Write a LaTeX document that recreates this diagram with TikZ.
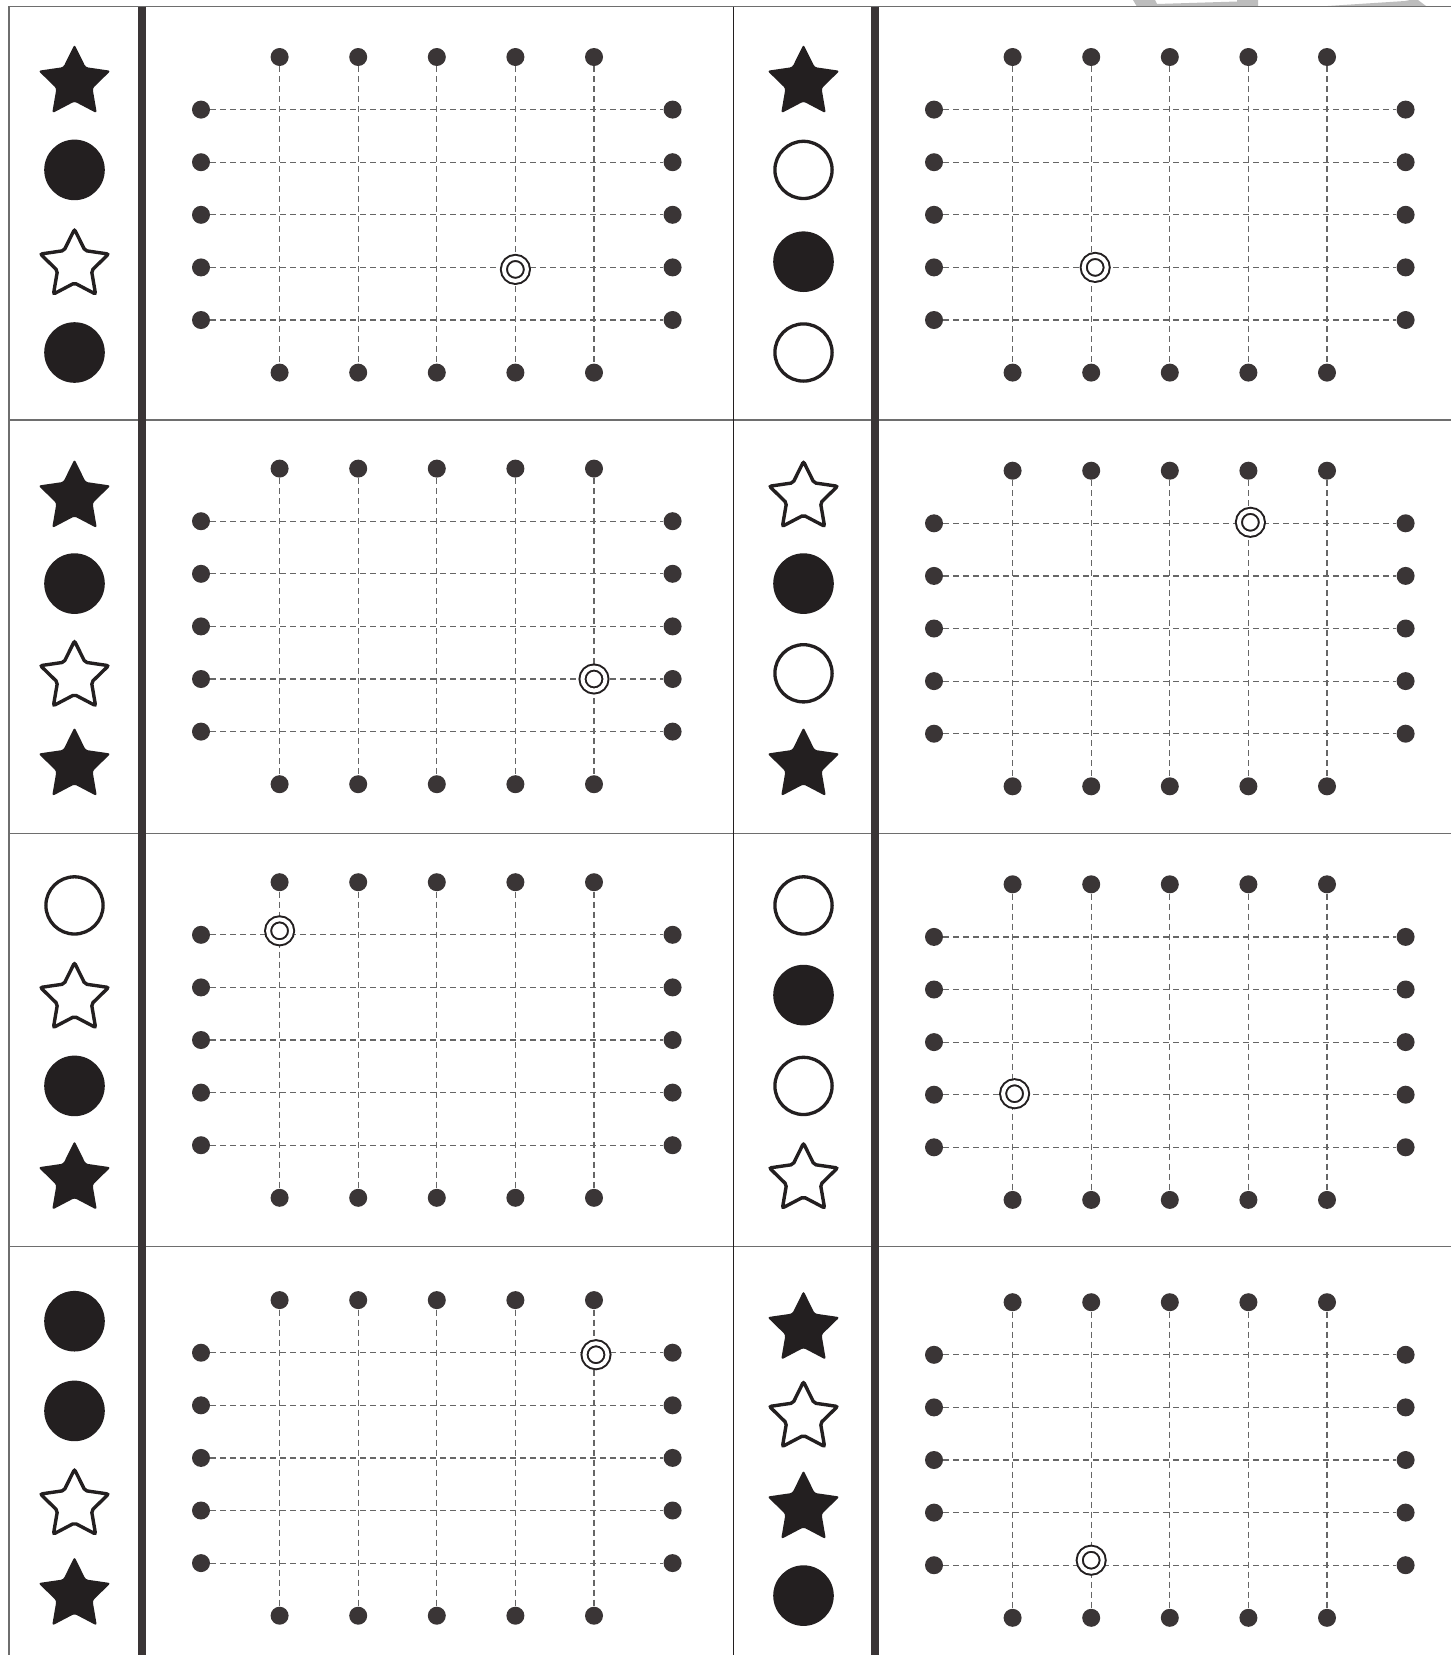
\documentclass[tikz,border=0pt]{standalone}
\usetikzlibrary{shapes.geometric}
\definecolor{ink}{HTML}{231F20}
\definecolor{dotc}{HTML}{3A3536}
\definecolor{dashc}{HTML}{666666}
\definecolor{framec}{HTML}{6E6E6E}
\definecolor{wmark}{HTML}{BDBDBD}
\begin{document}
\begin{tikzpicture}[x=0.5pt,y=-0.5pt,
  gdot/.style={circle,fill=dotc,inner sep=0pt,minimum size=9pt},
  gline/.style={draw=dashc,line width=0.6pt,dash pattern=on 3pt off 2pt},
  fstar/.style={star,star points=5,star point ratio=2,fill=ink,inner sep=0pt,minimum size=38pt,rounded corners=1.2pt,yshift=-1.7pt},
  ostar/.style={star,star points=5,star point ratio=2,draw=ink,line width=1.7pt,fill=white,inner sep=0pt,minimum size=35.8pt,rounded corners=1pt,yshift=-1.7pt},
  fcirc/.style={circle,fill=ink,inner sep=0pt,minimum size=30.3pt},
  ocirc/.style={circle,draw=ink,line width=1.65pt,fill=white,inner sep=0pt,minimum size=28.6pt},
  marker/.style={circle,draw=ink,double=white,double distance=2pt,line width=1pt,fill=white,inner sep=0pt,minimum size=11.5pt},
  framel/.style={draw=framec,line width=0.7pt},
  divl/.style={draw=ink,line width=0.55pt},
  thickl/.style={draw=dotc,line width=4pt}]
\useasboundingbox (0,0) rectangle (1451,1655);
\fill[white] (0,0) rectangle (1451,1655);
% watermark remnants at the top edge
\fill[wmark] (1133,0) -- (1137,6.7) -- (1258,6.7) -- (1258,0) -- (1237,0) -- (1237,1.5) -- (1157,4) -- (1155,0) -- cycle;
\fill[wmark] (1317,6.7) -- (1427,6.7) -- (1418,0) -- (1410,0) -- (1405,1) -- cycle;
% frame
\coordinate (ftl) at (9,6.7);
\coordinate (ftr) at (1451,6.7);
\coordinate (fbl) at (9,1655);
\draw[framel] (ftr) -- (ftl) -- (fbl);
\foreach \yy/\nm in {420/a,833.5/b,1246.5/c} {
  \coordinate (rl-\nm) at (9,\yy);
  \coordinate (rr-\nm) at (1451,\yy);
  \draw[framel] (rl-\nm) -- (rr-\nm);
}
\coordinate (mdt) at (733.3,6.7);
\coordinate (mdb) at (733.3,1655);
\draw[divl] (mdt) -- (mdb);
\coordinate (t1t) at (141.5,6.7);
\coordinate (t1b) at (141.5,1655);
\coordinate (t2t) at (874.8,6.7);
\coordinate (t2b) at (874.8,1655);
\draw[thickl] (t1t) -- (t1b);
\draw[thickl] (t2t) -- (t2b);
% panels
\foreach \r/\c/\xl/\yt/\xs/\ya/\yb/\yc/\yd/\sa/\sb/\sc/\sd/\mk/\mj/\dx/\dy in {
1/1/201/57/74.5/79.1/169.9/261.7/352.5/fstar/fcirc/ostar/fcirc/4/4/0/2,
1/2/934/57/803.5/79.1/169.9/261.7/352.5/fstar/ocirc/fcirc/ocirc/2/4/4/0,
2/1/201/468.6/74.5/493.9/583.6/673.3/761.9/fstar/fcirc/ostar/fstar/5/4/0/0,
2/2/934/470.7/803.5/493.9/583.6/673.3/761.9/ostar/fcirc/ocirc/fstar/4/1/2/-1,
3/1/201/882.2/74.5/905.4/995.1/1085.9/1175.6/ocirc/ostar/fcirc/fstar/1/1/0/-4,
3/2/934/884.3/803.5/905.4/995.1/1085.9/1175.6/ocirc/fcirc/ocirc/ostar/1/4/2/-1,
4/1/201/1300.1/74.5/1321.2/1410.9/1501.7/1591.4/fcirc/fcirc/ostar/fstar/5/1/2/2,
4/2/934/1302.2/803.5/1325.5/1414.1/1504.9/1595.6/fstar/ostar/fstar/fcirc/2/5/0/-5} {
  \foreach \k in {1,...,5} {
    \node[gdot] (t-\r\c-\k) at (\xl+78.6*\k,\yt) {};
    \node[gdot] (b-\r\c-\k) at (\xl+78.6*\k,\yt+315.6) {};
    \draw[gline] (t-\r\c-\k) -- (b-\r\c-\k);
    \node[gdot] (l-\r\c-\k) at (\xl,\yt+52.6*\k) {};
    \node[gdot] (e-\r\c-\k) at (\xl+471.6,\yt+52.6*\k) {};
    \draw[gline] (l-\r\c-\k) -- (e-\r\c-\k);
  }
  \node[marker] (m-\r\c) at (\xl+78.6*\mk+\dx,\yt+52.6*\mj+\dy) {};
  \node[\sa] (s-\r\c-1) at (\xs,\ya) {};
  \node[\sb] (s-\r\c-2) at (\xs,\yb) {};
  \node[\sc] (s-\r\c-3) at (\xs,\yc) {};
  \node[\sd] (s-\r\c-4) at (\xs,\yd) {};
}
\end{tikzpicture}
\end{document}
